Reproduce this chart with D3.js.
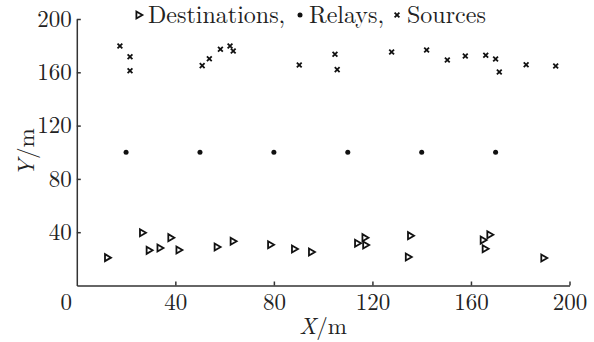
<!DOCTYPE html>
<meta charset="utf-8">
<head>
	<title> Node positions </title>
	<style>
		body { margin: 0; background: #fff; }
		.axis path, .axis line { stroke: #333; stroke-width: 1.5px; }
	</style>
</head>
<body>
  <div class="container"></div>

<script src="https://cdnjs.cloudflare.com/ajax/libs/d3/7.8.5/d3.min.js"></script>

<script type="text/javascript">

	// Data
	var destX = [12.5, 26.7, 29.4, 33.8, 38.2, 41.5, 57.0, 63.5, 78.7, 88.4, 95.3, 114.0, 117.0, 117.3, 135.5, 134.6, 165.0, 167.7, 165.8, 189.6];
	var destY = [20.9, 39.6, 26.4, 28.1, 35.9, 26.6, 28.9, 33.2, 30.6, 27.4, 25.1, 31.7, 35.9, 30.4, 37.4, 21.4, 34.1, 38.1, 27.6, 20.6];

	var relayX = [20, 50, 80, 110, 140, 170];
	var relayY = [100, 100, 100, 100, 100, 100];

	var srcX = [17.5, 21.6, 21.6, 50.9, 53.8, 58.3, 62.2, 63.5, 90.3, 104.8, 105.7, 127.8, 142.0, 150.4, 157.7, 166.0, 170.0, 171.5, 182.4, 194.4];
	var srcY = [179.7, 171.7, 161.2, 165.0, 170.2, 177.3, 179.7, 176.0, 165.5, 173.5, 162.0, 175.2, 176.7, 169.2, 172.2, 172.8, 170.0, 160.2, 165.7, 164.7];

	var xTicks = [40, 80, 120, 160, 200];
	var yTicks = [40, 80, 120, 160, 200];
	var legendLabels = ["Destinations,", "Relays,", "Sources"];

	var width = 594;
	var height = 342;
	var fs = 23;
	var font = '"Latin Modern Roman", "Liberation Serif", serif';

	var svg = d3.select(".container").append("svg")
		.attr("width", width)
		.attr("height", height);

	var x = d3.scaleLinear().domain([0, 200]).range([76.8, 569.5]);
	var y = d3.scaleLinear().domain([0, 200]).range([285.5, 19]);

	// axes, ticks pointing inward
	var gx = svg.append("g")
		.attr("class", "axis")
		.attr("transform", "translate(0," + y(0) + ")")
		.call(d3.axisBottom(x).tickValues(xTicks).tickSize(-4).tickSizeOuter(0).tickPadding(8));

	var gy = svg.append("g")
		.attr("class", "axis")
		.attr("transform", "translate(" + x(0) + ",0)")
		.call(d3.axisLeft(y).tickValues(yTicks).tickSize(-4).tickSizeOuter(0).tickPadding(5));

	svg.selectAll(".axis").attr("font-family", null).attr("font-size", null);
	svg.selectAll(".axis text")
		.attr("font-family", font)
		.attr("font-size", fs)
		.attr("fill", "#222");

	// shared origin label
	svg.append("text")
		.attr("x", 72)
		.attr("y", 310)
		.attr("text-anchor", "end")
		.attr("font-family", font)
		.attr("font-size", fs)
		.attr("fill", "#222")
		.text("0");

	// axis titles
	var xl = svg.append("text")
		.attr("x", (x(0) + x(200)) / 2)
		.attr("y", 334)
		.attr("text-anchor", "middle")
		.attr("font-family", font)
		.attr("font-size", fs)
		.attr("fill", "#222");
	xl.append("tspan").attr("font-style", "italic").text("X");
	xl.append("tspan").text("/m");

	var yl = svg.append("text")
		.attr("transform", "translate(34," + (y(0) + y(200)) / 2 + ") rotate(-90)")
		.attr("text-anchor", "middle")
		.attr("font-family", font)
		.attr("font-size", fs)
		.attr("fill", "#222");
	yl.append("tspan").attr("font-style", "italic").text("Y");
	yl.append("tspan").text("/m");

	// marker shapes
	function tri(g) {
		g.append("path")
			.attr("d", "M-2.6,-3.5L-2.6,3.5L3.4,0Z")
			.attr("fill", "#fff")
			.attr("stroke", "#111")
			.attr("stroke-width", 1.8);
	}
	function cross(g) {
		g.append("path")
			.attr("d", "M-2.4,-2.4L2.4,2.4M-2.4,2.4L2.4,-2.4")
			.attr("stroke", "#111")
			.attr("stroke-width", 1.8);
	}
	function dot(g) {
		g.append("circle").attr("r", 2.5).attr("fill", "#111");
	}

	var dest = d3.range(destX.length).map(function (i) { return {x: destX[i], y: destY[i]}; });
	var relay = d3.range(relayX.length).map(function (i) { return {x: relayX[i], y: relayY[i]}; });
	var src = d3.range(srcX.length).map(function (i) { return {x: srcX[i], y: srcY[i]}; });

	svg.selectAll("g.dest").data(dest).enter().append("g")
		.attr("class", "dest")
		.attr("transform", function (d) { return "translate(" + x(d.x) + "," + y(d.y) + ")"; })
		.each(function () { tri(d3.select(this)); });

	svg.selectAll("g.relay").data(relay).enter().append("g")
		.attr("class", "relay")
		.attr("transform", function (d) { return "translate(" + x(d.x) + "," + y(d.y) + ")"; })
		.each(function () { dot(d3.select(this)); });

	svg.selectAll("g.src").data(src).enter().append("g")
		.attr("class", "src")
		.attr("transform", function (d) { return "translate(" + x(d.x) + "," + y(d.y) + ")"; })
		.each(function () { cross(d3.select(this)); });

	// legend across the top
	var legendPos = [[139, 148], [300, 309], [397, 407]];
	var drawers = [tri, dot, cross];
	legendLabels.forEach(function (lab, i) {
		var p = legendPos[i];
		var mk = svg.append("g").attr("transform", "translate(" + p[0] + ",15)");
		drawers[i](mk);
		svg.append("text")
			.attr("x", p[1])
			.attr("y", 23)
			.attr("font-family", font)
			.attr("font-size", 24)
			.attr("fill", "#222")
			.text(lab);
	});

</script>
</body>
</html>
